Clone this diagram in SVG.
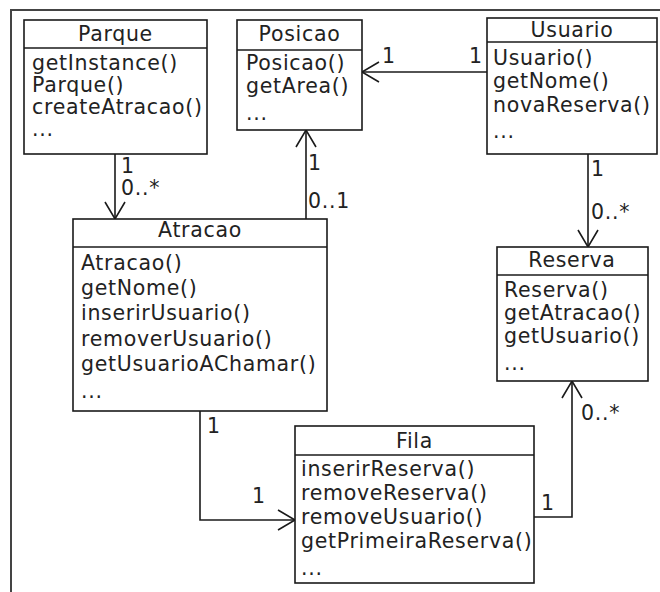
<svg xmlns="http://www.w3.org/2000/svg" width="660" height="592" viewBox="0 0 660 592">
<style>
.box{fill:#fff;stroke:#1a1a1a;stroke-width:1.6}
.sep{stroke:#1a1a1a;stroke-width:1.6}
text{font-family:"DejaVu Sans",Verdana,sans-serif;font-size:20.5px;fill:#222;letter-spacing:0.7px}
.h{text-anchor:middle}
.c{fill:none;stroke:#1a1a1a;stroke-width:1.6}
</style>
<defs>
<marker id="arr" markerUnits="userSpaceOnUse" markerWidth="20" markerHeight="24" viewBox="-1 -1 20 24" refX="17" refY="10" orient="auto">
<path d="M0,0 L17,10 L0,20" fill="none" stroke="#1a1a1a" stroke-width="1.6"/>
</marker>
</defs>
<rect width="660" height="592" fill="#fff"/>
<path d="M11,592 V10 H660" fill="none" stroke="#444" stroke-width="2"/>

<g id="connectors">
<path class="c" d="M115,154 V219" marker-end="url(#arr)"/>
<path class="c" d="M306,219 V130" marker-end="url(#arr)"/>
<path class="c" d="M487,72 H362" marker-end="url(#arr)"/>
<path class="c" d="M588,154 V247" marker-end="url(#arr)"/>
<path class="c" d="M200,411 V520 H295" marker-end="url(#arr)"/>
<path class="c" d="M534,517 H572 V381" marker-end="url(#arr)"/>
<text x="121" y="173">1</text>
<text x="121" y="195">0..*</text>
<text x="308" y="170">1</text>
<text x="308" y="208">0..1</text>
<text x="382" y="63">1</text>
<text x="469" y="63">1</text>
<text x="591" y="176">1</text>
<text x="591" y="219">0..*</text>
<text x="207" y="433">1</text>
<text x="252" y="503">1</text>
<text x="541" y="510">1</text>
<text x="581" y="420">0..*</text>
</g>

<g id="Parque">
<rect class="box" x="24" y="20" width="183" height="134"/>
<line class="sep" x1="24" y1="48" x2="207" y2="48"/>
<text class="h" x="115.5" y="41">Parque</text>
<text x="32" y="70">getInstance()</text>
<text x="32" y="92">Parque()</text>
<text x="32" y="114">createAtracao()</text>
<text x="32" y="136">...</text>
</g>

<g id="Posicao">
<rect class="box" x="237" y="20" width="125" height="110"/>
<line class="sep" x1="237" y1="50" x2="362" y2="50"/>
<text class="h" x="299.5" y="41">Posicao</text>
<text x="246" y="70">Posicao()</text>
<text x="246" y="93">getArea()</text>
<text x="246" y="120">...</text>
</g>

<g id="Usuario">
<rect class="box" x="487" y="18" width="170" height="136"/>
<line class="sep" x1="487" y1="42" x2="657" y2="42"/>
<text class="h" x="572" y="37">Usuario</text>
<text x="493" y="65">Usuario()</text>
<text x="493" y="88">getNome()</text>
<text x="493" y="112">novaReserva()</text>
<text x="493" y="138">...</text>
</g>

<g id="Atracao">
<rect class="box" x="73" y="219" width="254" height="192"/>
<line class="sep" x1="73" y1="247" x2="327" y2="247"/>
<text class="h" x="200" y="237">Atracao</text>
<text x="81" y="270">Atracao()</text>
<text x="81" y="295">getNome()</text>
<text x="81" y="320">inserirUsuario()</text>
<text x="81" y="346">removerUsuario()</text>
<text x="81" y="371">getUsuarioAChamar()</text>
<text x="81" y="398">...</text>
</g>

<g id="Reserva">
<rect class="box" x="497" y="247" width="151" height="134"/>
<line class="sep" x1="497" y1="275" x2="648" y2="275"/>
<text class="h" x="572" y="267">Reserva</text>
<text x="504" y="297">Reserva()</text>
<text x="504" y="320">getAtracao()</text>
<text x="504" y="343">getUsuario()</text>
<text x="504" y="370">...</text>
</g>

<g id="Fila">
<rect class="box" x="295" y="426" width="239" height="157"/>
<line class="sep" x1="295" y1="455" x2="534" y2="455"/>
<text class="h" x="414.5" y="448">Fila</text>
<text x="301" y="476">inserirReserva()</text>
<text x="301" y="500">removeReserva()</text>
<text x="301" y="524">removeUsuario()</text>
<text x="301" y="548">getPrimeiraReserva()</text>
<text x="301" y="575">...</text>
</g>
</svg>
